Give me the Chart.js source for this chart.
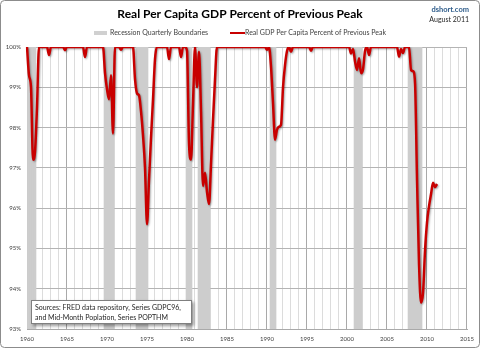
<!DOCTYPE html>
<html>
<head>
<meta charset="utf-8">
<script src="https://cdn.jsdelivr.net/npm/chart.js@4.4.1/dist/chart.umd.min.js"></script>
<style>
  html, body { margin: 0; padding: 0; background: #fff; }
  #wrap { width: 480px; height: 348px; }
</style>
</head>
<body>
<div id="wrap"><canvas id="gdpChart" width="480" height="348"></canvas></div>
<script>
// Real GDP per capita as % of previous peak, quarterly from 1960Q1
const firstYear = 1960;
const lastYear = 2015;
const tickYears = ['1960', '1965', '1970', '1975', '1980', '1985', '1990', '1995', '2000', '2005', '2010', '2015'];
const yTicks = [93, 94, 95, 96, 97, 98, 99, 100];

const gdpPctOfPeak = [
  100, 99.3, 99.0, 97.2,       // 1960
  97.4, 98.5, 100, 100,        // 1961
  100, 100, 100, 99.8,         // 1962
  100, 100, 100, 100,          // 1963
  100, 100, 100, 99.92,        // 1964
  100, 100, 100, 100,          // 1965
  100, 100, 100, 100,          // 1966
  100, 99.75, 100, 100,        // 1967
  100, 100, 100, 100,          // 1968
  100, 100, 100, 99.35,        // 1969
  98.95, 98.7, 99.3, 97.85,    // 1970
  100, 100, 100, 99.93,        // 1971
  100, 100, 100, 100,          // 1972
  100, 100, 99.2, 98.85,       // 1973
  98.8, 98.4, 97.8, 97.0,      // 1974
  95.6, 96.7, 97.75, 98.7,     // 1975
  99.7, 100, 100, 100,         // 1976
  100, 100, 100, 99.7,         // 1977
  100, 100, 100, 100,          // 1978
  100, 99.75, 100, 100,        // 1979
  99.9, 97.6, 97.2, 98.6,      // 1980
  100, 99.0, 99.88, 98.4,      // 1981
  96.55, 96.88, 96.4, 96.1,    // 1982
  97.1, 98.2, 99.2, 100,       // 1983
  100, 100, 100, 100,          // 1984
  100, 100, 100, 100,          // 1985
  100, 100, 100, 100,          // 1986
  100, 100, 100, 100,          // 1987
  100, 100, 100, 100,          // 1988
  100, 100, 100, 100,          // 1989
  99.93, 100, 99.5, 98.6,      // 1990
  97.7, 97.95, 98.02, 98.07,   // 1991
  99.0, 99.55, 99.9, 100,      // 1992
  99.88, 100, 100, 100,        // 1993
  100, 100, 100, 100,          // 1994
  100, 100, 99.91, 100,        // 1995
  100, 100, 100, 100,          // 1996
  100, 100, 100, 100,          // 1997
  100, 100, 100, 100,          // 1998
  100, 100, 100, 100,          // 1999
  100, 100, 99.84, 99.95,      // 2000
  99.64, 99.43, 99.72, 99.35,  // 2001
  99.45, 99.9, 100, 99.8,      // 2002
  100, 100, 100, 100,          // 2003
  100, 100, 100, 100,          // 2004
  100, 100, 100, 100,          // 2005
  100, 100, 99.76, 99.95,      // 2006
  99.85, 100, 100, 100,        // 2007
  99.43, 99.4, 99.1, 96.7,     // 2008
  94.6, 93.65, 93.9, 94.95,    // 2009
  95.65, 96.05, 96.35, 96.63,  // 2010
  96.52, 96.6                  // 2011
];

// NBER recessions, first and last quarter
const recessionStart = ['1960Q1', '1969Q4', '1973Q4', '1980Q1', '1981Q3', '1990Q3', '2001Q1', '2007Q4'];
const recessionEnd   = ['1961Q1', '1970Q4', '1975Q1', '1980Q3', '1982Q4', '1991Q1', '2001Q4', '2009Q2'];

// quarter labels 1960Q1 .. 2015Q1 so 2015 sits on the right edge
const quarterLabels = [];
for (let y = firstYear; y < lastYear; y++) {
  for (let q = 1; q <= 4; q++) quarterLabels.push(y + 'Q' + q);
}
quarterLabels.push(lastYear + 'Q1');

const recessionBars = quarterLabels.map(() => null);
recessionStart.forEach((s, i) => {
  const a = quarterLabels.indexOf(s);
  const b = quarterLabels.indexOf(recessionEnd[i]);
  for (let k = a; k <= b; k++) recessionBars[k] = [93, 100];
});

const FONT = 'Lato, "Open Sans", sans-serif';

const decor = {
  id: 'decor',
  beforeDraw(chart) {
    const c = chart.ctx;
    c.save();
    c.fillStyle = '#fff';
    c.fillRect(0, 0, chart.width, chart.height);
    c.restore();
  },
  beforeDatasetDraw(chart, args) {
    if (args.index === 1) {
      const c = chart.ctx;
      c.save();
      c.shadowColor = 'rgba(0,0,0,0.35)';
      c.shadowBlur = 2;
      c.shadowOffsetX = 1;
      c.shadowOffsetY = 1;
    }
  },
  afterDatasetDraw(chart, args) {
    if (args.index === 1) chart.ctx.restore();
  },
  afterDraw(chart) {
    const c = chart.ctx;
    c.save();
    // outer frame
    c.strokeStyle = '#8c8c8c';
    c.lineWidth = 1;
    c.beginPath();
    c.roundRect(0.5, 0.5, chart.width - 1, chart.height - 1, 4);
    c.stroke();

    // title
    c.textBaseline = 'middle';
    c.textAlign = 'center';
    c.fillStyle = '#000';
    c.font = 'bold 12px ' + FONT;
    c.fillText('Real Per Capita GDP Percent of Previous Peak', 240, 14);

    // site + date
    c.textAlign = 'right';
    c.fillStyle = '#2e5c8a';
    c.font = 'bold 7.5px ' + FONT;
    c.fillText('dshort.com', 469, 10);
    c.fillStyle = '#262626';
    c.font = '7px ' + FONT;
    c.fillText('August 2011', 469, 20);

    // legend
    c.textAlign = 'left';
    c.fillStyle = '#d0d0d0';
    c.fillRect(94, 31, 13, 4);
    c.fillStyle = '#404040';
    c.font = '7px ' + FONT;
    c.fillText('Recession Quarterly Boundaries', 110, 33);
    c.strokeStyle = '#c80000';
    c.lineWidth = 2;
    c.beginPath();
    c.moveTo(230, 33);
    c.lineTo(245, 33);
    c.stroke();
    c.fillText('Real GDP Per Capita Percent of Previous Peak', 245, 33);

    // sources box
    c.save();
    c.shadowColor = 'rgba(0,0,0,0.4)';
    c.shadowBlur = 3;
    c.shadowOffsetX = 2;
    c.shadowOffsetY = 2;
    c.fillStyle = '#fff';
    c.fillRect(31, 300, 161, 24);
    c.restore();
    c.strokeStyle = '#7f7f7f';
    c.lineWidth = 1;
    c.strokeRect(31.5, 300.5, 160, 23);
    c.fillStyle = '#262626';
    c.font = '7px ' + FONT;
    c.fillText('Sources: FRED data repository, Series GDPC96,', 35, 307.5);
    c.fillText('and Mid-Month Poplation, Series POPTHM', 35, 317.5);
    c.restore();
  }
};

const ctx = document.getElementById('gdpChart').getContext('2d');
const gdpChart = new Chart(ctx, {
  data: {
    labels: quarterLabels,
    datasets: [
      {
        type: 'bar',
        label: 'Recession Quarterly Boundaries',
        data: recessionBars,
        backgroundColor: '#cdcdcd',
        borderWidth: 0,
        barPercentage: 1,
        categoryPercentage: 1,
        order: 2
      },
      {
        type: 'line',
        label: 'Real GDP Per Capita Percent of Previous Peak',
        data: gdpPctOfPeak,
        borderColor: '#c80000',
        borderWidth: 2.5,
        pointRadius: 0,
        cubicInterpolationMode: 'monotone',
        order: 1
      }
    ]
  },
  options: {
    responsive: false,
    animation: false,
    devicePixelRatio: 1,
    layout: { padding: { left: 0, right: 9, top: 47, bottom: 0 } },
    plugins: {
      legend: { display: false },
      title: { display: false },
      tooltip: { enabled: false }
    },
    scales: {
      x: {
        type: 'category',
        offset: false,
        afterFit: (scale) => { scale.height = 19; },
        grid: {
          drawTicks: false,
          color: (c) => {
            const i = c.index;
            if (i % 4 !== 0) return 'rgba(0,0,0,0)';
            return i % 20 === 0 ? '#a9a9a9' : '#dcdcdc';
          }
        },
        border: { color: '#a9a9a9' },
        ticks: {
          autoSkip: false,
          maxRotation: 0,
          padding: 6,
          color: '#404040',
          font: { family: FONT, size: 6 },
          callback: (v, i) => (i % 20 === 0 ? tickYears[i / 20] : '')
        }
      },
      y: {
        min: 93,
        max: 100,
        afterFit: (scale) => { scale.width = 27; },
        afterBuildTicks: (scale) => { scale.ticks = yTicks.map(v => ({ value: v })); },
        grid: { drawTicks: false, color: '#b4b4b4' },
        border: { color: '#a9a9a9' },
        ticks: {
          padding: 6,
          color: '#404040',
          font: { family: FONT, size: 6 },
          callback: (v) => v + '%'
        }
      }
    }
  },
  plugins: [decor]
});
</script>
</body>
</html>
